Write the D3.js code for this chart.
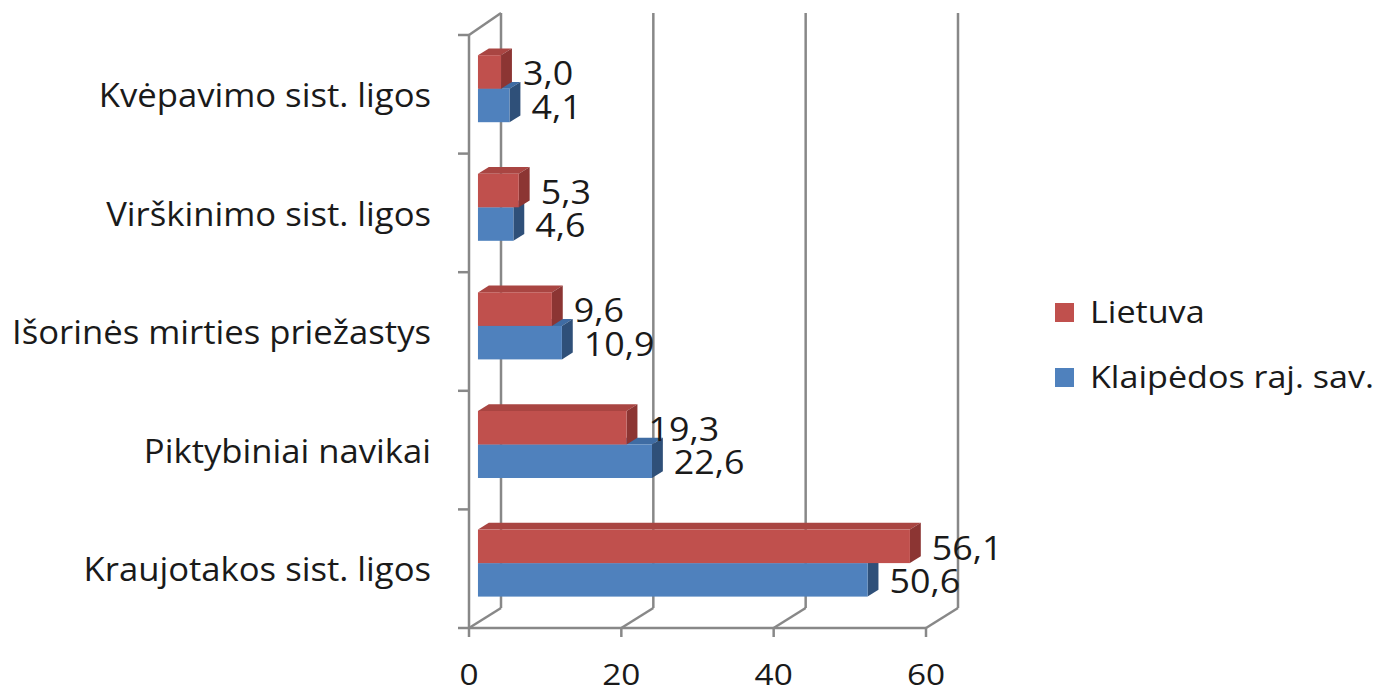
<!DOCTYPE html>
<html>
<head>
<meta charset="utf-8">
<script src="https://cdn.jsdelivr.net/npm/d3@7"></script>
<style>
  body { margin: 0; background: #fff; }
  text { font-family: "Open Sans", sans-serif; fill: #1a1a1a; }
</style>
</head>
<body>
<svg width="1378" height="689"></svg>
<script>
// data, top to bottom as shown in the chart
const categories = ["Kvėpavimo sist. ligos", "Virškinimo sist. ligos", "Išorinės mirties priežastys", "Piktybiniai navikai", "Kraujotakos sist. ligos"];
const seriesNames = ["Lietuva", "Klaipėdos raj. sav."];
const lietuva = [3.0, 5.3, 9.6, 19.3, 56.1];
const klaipeda = [4.1, 4.6, 10.9, 22.6, 50.6];
const xTicks = [0, 20, 40, 60];

const colors = ["#C0504D", "#4F81BD"];
const sideColors = ["#8C3533", "#2F5079"];
const topColors = ["#A94542", "#3F6CA3"];

const svg = d3.select("svg");
const grid = "#888888";

// front plane geometry
const x = d3.scaleLinear().domain([0, 60]).range([469, 926]);
const y = d3.scaleBand().domain(categories).range([35, 628]);
// full depth of the box
const DX = 32, DY = -20;
// bars sit between these depth fractions
const f0 = 0.28, f1 = 0.62;
const xb = d3.scaleLinear().domain([0, 60]).range([469 + f0 * DX, 469 + f0 * DX + 462]);
const inner = d3.scaleBand().domain(seriesNames).range([0, y.bandwidth()]).paddingOuter(0.77);

const fmt = v => d3.format(".1f")(v).replace(".", ",");
// text in the source is a bit wider than Open Sans
const place = (px, py, sx) => `translate(${px},${py}) scale(${sx},1)`;

// back wall gridlines
const g = svg.append("g").attr("stroke", grid).attr("stroke-width", 2.5).attr("fill", "none");
xTicks.forEach(t => {
  g.append("line")
    .attr("x1", x(t) + DX).attr("x2", x(t) + DX)
    .attr("y1", 35 + DY - 2).attr("y2", 628 + DY);
  g.append("line")
    .attr("x1", x(t)).attr("x2", x(t) + DX)
    .attr("y1", 628).attr("y2", 628 + DY);
  g.append("line")
    .attr("x1", x(t)).attr("x2", x(t))
    .attr("y1", 628).attr("y2", 637);
});
// left wall
g.append("line").attr("x1", 469).attr("x2", 469).attr("y1", 35).attr("y2", 628);
g.append("line").attr("x1", 469).attr("x2", 469 + DX).attr("y1", 35).attr("y2", 35 + DY - 2);
g.append("line").attr("x1", 469).attr("x2", 926).attr("y1", 628).attr("y2", 628);
// category ticks
categories.concat([null]).forEach((c, i) => {
  const yy = c ? y(c) : 628;
  g.append("line").attr("x1", 458).attr("x2", 469).attr("y1", yy).attr("y2", yy);
});

// bars (blue first so the red bar sits on top)
const series = [
  { name: seriesNames[1], values: klaipeda, c: 1 },
  { name: seriesNames[0], values: lietuva, c: 0 }
];
const ox = f0 * DX, oy = f0 * DY;
const ddx = (f1 - f0) * DX, ddy = (f1 - f0) * DY;

series.forEach(s => {
  const bars = svg.append("g").selectAll("g").data(categories).join("g");
  bars.each(function(cat, i) {
    const v = s.values[i];
    const x0 = xb(0), x1 = xb(v);
    const y0 = y(cat) + inner(s.name) + oy;
    const h = inner.bandwidth();
    const sel = d3.select(this);
    // top face
    sel.append("path")
      .attr("d", `M${x0},${y0}L${x1},${y0}L${x1 + ddx},${y0 + ddy}L${x0 + ddx},${y0 + ddy}Z`)
      .attr("fill", topColors[s.c]);
    // side face
    sel.append("path")
      .attr("d", `M${x1},${y0}L${x1 + ddx},${y0 + ddy}L${x1 + ddx},${y0 + h + ddy}L${x1},${y0 + h}Z`)
      .attr("fill", sideColors[s.c]);
    // front face
    sel.append("rect")
      .attr("x", x0).attr("y", y0).attr("width", x1 - x0).attr("height", h)
      .attr("fill", colors[s.c]);
  });
});

// value labels
series.forEach(s => {
  svg.append("g").selectAll("text").data(categories).join("text")
    .attr("transform", (d, i) => place(xb(s.values[i]) + ddx + 11,
      y(d) + inner(s.name) + oy + inner.bandwidth() / 2 + 1, 1.12))
    .attr("dominant-baseline", "central")
    .attr("font-size", 32)
    .text((d, i) => fmt(s.values[i]));
});

// category labels
svg.append("g").selectAll("text").data(categories).join("text")
  .attr("transform", d => place(431, y(d) + y.bandwidth() / 2, 1.05))
  .attr("text-anchor", "end")
  .attr("dominant-baseline", "central")
  .attr("font-size", 33)
  .text(d => d);

// x tick labels
svg.append("g").selectAll("text").data(xTicks).join("text")
  .attr("transform", d => place(x(d), 674, 1.15))
  .attr("text-anchor", "middle")
  .attr("dominant-baseline", "central")
  .attr("font-size", 29)
  .text(d => d);

// legend
const legend = svg.append("g").selectAll("g").data(seriesNames).join("g")
  .attr("transform", (d, i) => `translate(1055, ${303 + i * 65})`);
legend.append("rect").attr("width", 19).attr("height", 19)
  .attr("fill", (d, i) => colors[i]);
legend.append("text")
  .attr("transform", place(35, 8, 1.1))
  .attr("dominant-baseline", "central")
  .attr("font-size", 31)
  .text(d => d);
</script>
</body>
</html>
